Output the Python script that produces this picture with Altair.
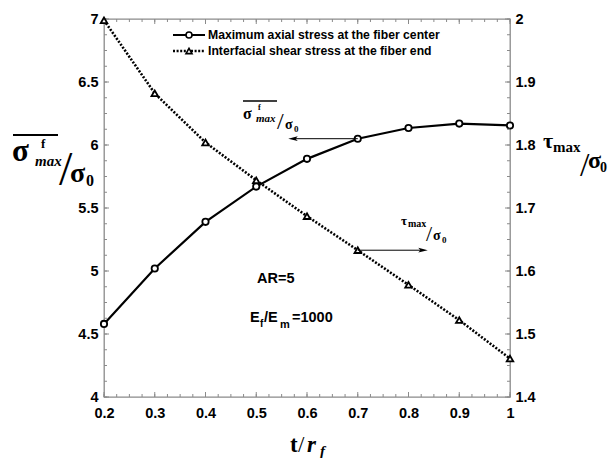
import altair as alt
import pandas as pd

# ---------------- data ----------------
t_over_rf = [0.2, 0.3, 0.4, 0.5, 0.6, 0.7, 0.8, 0.9, 1.0]
sigma_max = [4.58, 5.02, 5.39, 5.67, 5.89, 6.05, 6.135, 6.17, 6.155]
tau_max = [1.998, 1.882, 1.804, 1.744, 1.687, 1.633, 1.578, 1.522, 1.461]

x_major = [0.2, 0.3, 0.4, 0.5, 0.6, 0.7, 0.8, 0.9, 1.0]
left_major = [4.0, 4.5, 5.0, 5.5, 6.0, 6.5, 7.0]
right_major = [1.4, 1.5, 1.6, 1.7, 1.8, 1.9, 2.0]
x_minor = [round(0.2 + 0.025 * i, 4) for i in range(33)]
left_minor = [round(4.0 + 0.125 * i, 4) for i in range(25)]
right_minor = [round(1.4 + 0.025 * i, 4) for i in range(25)]

legend_labels = ["Maximum axial stress at the fiber center",
                 "Interfacial shear stress at the fiber end"]

# ---------------- layout ----------------
W, H = 406, 378
OX, OY = 104, 19
SANS = "Liberation Sans"
SERIF = "Liberation Serif"
AXC = "#8a8a8a"

df = pd.DataFrame({"x": t_over_rf, "s": sigma_max, "tau": tau_max})

xs = alt.Scale(domain=[0.2, 1.0], nice=False, zero=False)
ys_left = alt.Scale(domain=[4, 7], nice=False, zero=False)
ys_right = alt.Scale(domain=[1.4, 2.0], nice=False, zero=False)

lab = dict(labelFont=SANS, labelFontWeight="bold", labelFontSize=14.5,
           labelColor="black", ticks=False, domain=False, grid=False,
           labelOverlap=False, labelFlush=False, title=None)

x_axis = alt.Axis(values=x_major, labelPadding=9, orient="bottom",
                  labelExpr="datum.value == 1 ? '1' : format(datum.value, '.1f')", **lab)
yl_axis = alt.Axis(values=left_major, labelPadding=6, orient="left",
                   labelExpr="datum.value % 1 == 0 ? format(datum.value, 'd') : format(datum.value, '.1f')", **lab)
yr_axis = alt.Axis(values=right_major, labelPadding=5, orient="right",
                   labelExpr="datum.value == 2 ? '2' : format(datum.value, '.1f')", **lab)


def X(field):
    return alt.X(field, scale=xs, axis=x_axis)


def YL(field):
    return alt.Y(field, scale=ys_left, axis=yl_axis)


def YR(field):
    return alt.Y(field, scale=ys_right, axis=yr_axis)


def txt(s, x, y, size, font=SERIF, weight="bold", style="normal",
        align="left", baseline="alphabetic"):
    return alt.Chart(pd.DataFrame({"t": [s]})).mark_text(
        font=font, fontSize=size, fontWeight=weight, fontStyle=style,
        align=align, baseline=baseline, color="black"
    ).encode(x=alt.value(x - OX), y=alt.value(y - OY), text="t:N")


def hline(x1, x2, y, width=1.5, dash=None):
    kw = dict(color="black", strokeWidth=width)
    if dash:
        kw["strokeDash"] = dash
    return alt.Chart(pd.DataFrame({"a": [0]})).mark_rule(**kw).encode(
        x=alt.value(x1 - OX), x2=alt.value(x2 - OX), y=alt.value(y - OY))


def tick_rules(vals, kind, length):
    d = pd.DataFrame({"v": vals})
    base = alt.Chart(d).mark_rule(color=AXC, strokeWidth=1)
    if kind == "bottom":
        return base.encode(x=X("v:Q"), y=alt.value(H), y2=alt.value(H - length))
    if kind == "top":
        return base.encode(x=X("v:Q"), y=alt.value(0), y2=alt.value(length))
    if kind == "left":
        return base.encode(y=YL("v:Q"), x=alt.value(0), x2=alt.value(length))
    return base.encode(y=YR("v:Q"), x=alt.value(W - length), x2=alt.value(W))


# ---------------- left group (sigma) ----------------
sig_line = alt.Chart(df).mark_line(color="black", strokeWidth=2.2).encode(
    x=X("x:Q"), y=YL("s:Q"))
sig_pts = alt.Chart(df).mark_point(shape="circle", filled=True, fill="white",
                                   stroke="black", strokeWidth=1.8, size=40,
                                   opacity=1).encode(x=X("x:Q"), y=YL("s:Q"))

arr1 = pd.DataFrame({"x": [0.5724, t_over_rf[5]], "y": [sigma_max[5]] * 2})
arrow1_line = alt.Chart(arr1).mark_line(color="black", strokeWidth=1).encode(
    x=X("x:Q"), y=YL("y:Q"))
arrow1_head = alt.Chart(arr1.iloc[[0]]).mark_point(
    shape="M -1 0 L 1 -0.5 L 0.55 0 L 1 0.5 Z", filled=True, color="black",
    size=90, opacity=1).encode(x=X("x:Q"), y=YL("y:Q"))

left_group = alt.layer(
    sig_line, sig_pts, arrow1_line, arrow1_head,
    tick_rules(x_minor, "bottom", 3), tick_rules(x_major, "bottom", 5),
    tick_rules(x_minor, "top", 3), tick_rules(x_major, "top", 5),
    tick_rules(left_minor, "left", 3), tick_rules(left_major, "left", 5))

# ---------------- right group (tau) ----------------
tau_line = alt.Chart(df).mark_line(color="black", strokeWidth=2.6,
                                   strokeDash=[2, 1.6]).encode(
    x=X("x:Q"), y=YR("tau:Q"))
tau_pts = alt.Chart(df).mark_point(shape="triangle-up", filled=True, fill="white",
                                   stroke="black", strokeWidth=1.8, size=42,
                                   opacity=1).encode(x=X("x:Q"), y=YR("tau:Q"))

arr2 = pd.DataFrame({"x": [t_over_rf[5], 0.8286], "y": [tau_max[5]] * 2})
arrow2_line = alt.Chart(arr2).mark_line(color="black", strokeWidth=1).encode(
    x=X("x:Q"), y=YR("y:Q"))
arrow2_head = alt.Chart(arr2.iloc[[1]]).mark_point(
    shape="M 1 0 L -1 -0.5 L -0.55 0 L -1 0.5 Z", filled=True, color="black",
    size=90, opacity=1).encode(x=X("x:Q"), y=YR("y:Q"))

right_group = alt.layer(
    tau_line, tau_pts, arrow2_line, arrow2_head,
    tick_rules(right_minor, "right", 3), tick_rules(right_major, "right", 5))

# ---------------- texts ----------------
texts = [
    # left axis title
    hline(13, 58, 135, width=2),
    txt("σ", 12, 161, 31),
    txt("f", 41, 148, 13),
    txt("max", 35, 166, 15, style="italic"),
    txt("/", 59, 185, 48, weight="normal"),
    txt("σ", 70, 182, 28),
    txt("0", 86, 186, 16),
    # right axis title
    txt("τ", 543, 148, 22),
    txt("max", 553, 152, 15),
    txt("/", 580, 176, 34, weight="normal"),
    txt("σ", 588, 168, 24),
    txt("0", 600, 172, 14),
    # x axis title
    txt("t", 290, 452, 23),
    txt("/", 298, 452, 23, weight="normal"),
    txt("r", 307, 452, 23, style="italic"),
    txt("f", 320, 456, 15, style="italic"),
    # sigma annotation
    hline(243, 277, 101, width=1.3),
    txt("σ", 243, 119, 16),
    txt("f", 258, 110, 8),
    txt("max", 256, 122, 11, style="italic"),
    txt("/", 277, 129, 24, weight="normal"),
    txt("σ", 285, 129, 14),
    txt("0", 294, 132, 9),
    # tau annotation
    txt("τ", 401, 225, 13),
    txt("max", 408, 227, 10),
    txt("/", 426, 241, 22, weight="normal"),
    txt("σ", 433, 240, 14),
    txt("0", 442, 243, 9),
    # parameters
    txt("AR=5", 257, 283, 14.5, font=SANS),
    txt("E", 250, 322, 14.5, font=SANS),
    txt("f", 260, 327, 10, font=SANS),
    txt("/E", 264, 322, 14.5, font=SANS),
    txt("m", 280, 328, 11, font=SANS),
    txt("=1000", 292, 322, 14.5, font=SANS),
    # legend
    hline(173, 205, 35, width=2),
    hline(173, 205, 51, width=2.4, dash=[2, 1.6]),
    txt(legend_labels[0], 208, 35, 12.2, font=SANS, baseline="middle"),
    txt(legend_labels[1], 208, 51, 12.2, font=SANS, baseline="middle"),
    alt.Chart(pd.DataFrame({"a": [0]})).mark_point(
        shape="circle", filled=True, fill="white", stroke="black",
        strokeWidth=1.6, size=36, opacity=1).encode(
        x=alt.value(189 - OX), y=alt.value(35 - OY)),
    alt.Chart(pd.DataFrame({"a": [0]})).mark_point(
        shape="triangle-up", filled=True, fill="white", stroke="black",
        strokeWidth=1.6, size=36, opacity=1).encode(
        x=alt.value(189 - OX), y=alt.value(51 - OY)),
]

chart = alt.layer(left_group, right_group, *texts).resolve_scale(
    y="independent"
).properties(
    width=W, height=H,
    autosize=alt.AutoSizeParams(type="none"),
    padding={"left": OX, "top": OY, "right": 613 - OX - W, "bottom": 458 - OY - H},
    background="white",
).configure_view(stroke=AXC, strokeWidth=1.3)

chart.save("out.html", embed_options={"renderer": "svg", "actions": False})
